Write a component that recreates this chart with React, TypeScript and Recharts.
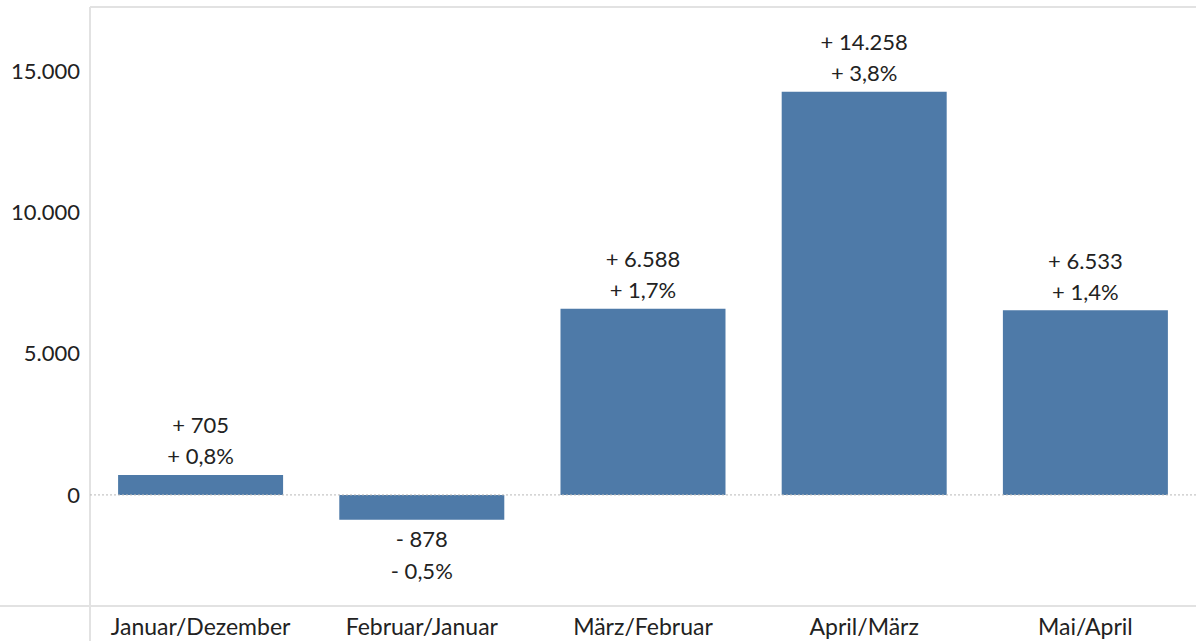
import React from 'react';
import {
  BarChart, Bar, XAxis, YAxis, ReferenceLine, LabelList, usePlotArea, useChartHeight,
} from 'recharts';

const categories = ['Januar/Dezember', 'Februar/Januar', 'März/Februar', 'April/März', 'Mai/April'];
const changes = [705, -878, 6588, 14258, 6533];
const percents = [0.8, -0.5, 1.7, 3.8, 1.4];
const yTicks = [0, 5000, 10000, 15000];

const data = categories.map((name, i) => ({ name, value: changes[i], pct: percents[i] }));

const FONT = 'Lato, "Open Sans", sans-serif';
const TEXT = '#222';
const FRAME = '#e2e2e2';

const fmtNum = (v: number) => v.toLocaleString('de-DE');
const sign = (v: number) => (v < 0 ? '- ' : '+ ');

function Frame() {
  const plot = usePlotArea();
  const h = useChartHeight();
  if (!plot || !h) return null;
  const right = plot.x + plot.width;
  const bottom = plot.y + plot.height;
  return (
    <g>
      <line x1={plot.x} x2={right} y1={plot.y} y2={plot.y} stroke={FRAME} strokeWidth={2} />
      <line x1={plot.x} x2={plot.x} y1={plot.y} y2={h} stroke={FRAME} strokeWidth={2} />
      <line x1={0} x2={right} y1={bottom} y2={bottom} stroke={FRAME} strokeWidth={2} />
    </g>
  );
}

const renderLabel = (props: any) => {
  const { x, y, width, height, index } = props;
  const v = changes[index];
  const p = percents[index];
  const cx = x + width / 2;
  const neg = v < 0;
  const top = Math.min(y, y + height);
  const bot = Math.max(y, y + height);
  const l1 = `${sign(v)}${fmtNum(Math.abs(v))}`;
  const l2 = `${sign(p)}${Math.abs(p).toLocaleString('de-DE', { minimumFractionDigits: 1 })}%`;
  const y1 = neg ? bot + 19 : top - 50;
  const y2 = neg ? bot + 51 : top - 19;
  return (
    <g>
      <text x={cx} y={y1} textAnchor="middle" dominantBaseline="central" fill={TEXT} fontSize={22} fontFamily={FONT}>{l1}</text>
      <text x={cx} y={y2} textAnchor="middle" dominantBaseline="central" fill={TEXT} fontSize={22} fontFamily={FONT}>{l2}</text>
    </g>
  );
};

export default function App() {
  return (
    <div style={{ position: 'absolute', left: 0, top: 0, background: '#fff' }}>
      <BarChart
        width={1196}
        height={641}
        data={data}
        margin={{ top: 7, right: 0, bottom: 0, left: 0 }}
        barCategoryGap="12.7%"
      >
        <XAxis
          dataKey="name"
          axisLine={false}
          tickLine={false}
          height={35}
          tickMargin={7}
          tick={{ fill: TEXT, fontSize: 23, fontFamily: FONT }}
          interval={0}
        />
        <YAxis
          domain={[-3930, 17260]}
          ticks={yTicks}
          allowDataOverflow
          axisLine={false}
          tickLine={false}
          width={90}
          tickMargin={4}
          tickFormatter={fmtNum}
          tick={{ fill: TEXT, fontSize: 22, fontFamily: FONT }}
        />
        <ReferenceLine y={0} stroke="#b8b8b8" strokeDasharray="2 2" />
        <Bar dataKey="value" fill="#4e7aa8" isAnimationActive={false}>
          <LabelList dataKey="value" content={renderLabel} />
        </Bar>
        <Frame />
      </BarChart>
    </div>
  );
}
